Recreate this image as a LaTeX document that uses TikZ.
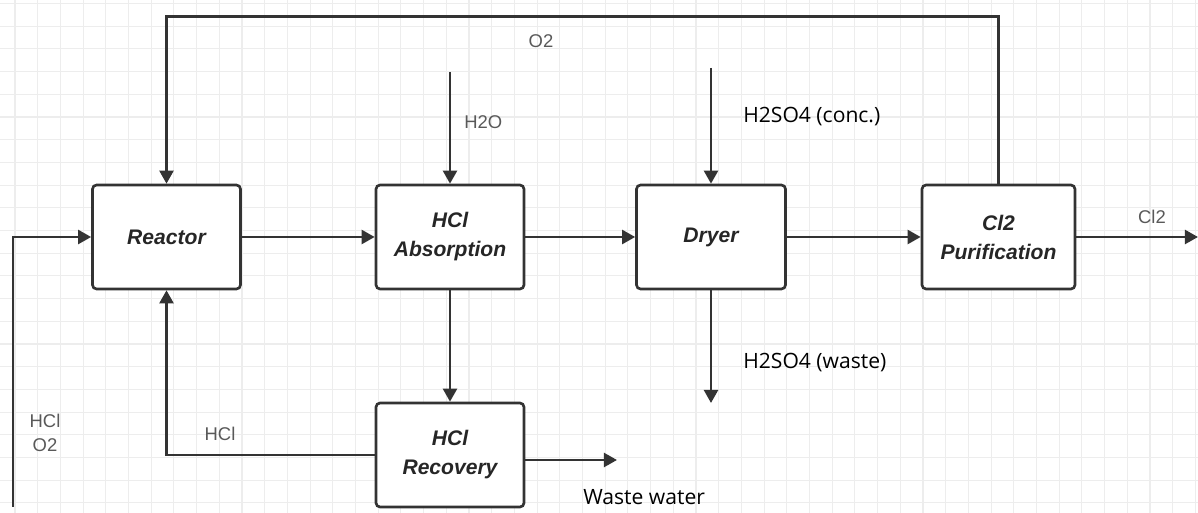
\documentclass[tikz,border=0pt]{standalone}
\usepackage{fontspec}
\setmainfont{Liberation Sans}
\newfontfamily\notefont{Open Sans}
\usetikzlibrary{arrows.meta}

\begin{document}
\begin{tikzpicture}[x=0.02cm,y=-0.02cm,
    unit/.style={draw=colL,line width=1.5pt,rounded corners=2.3pt,fill=white,
                 minimum width=2.96cm,minimum height=2.08cm,align=center,
                 font=\fontsize{12}{16.5}\selectfont\bfseries\itshape,text=colT},
    flow/.style={draw=colL,line width=1.5pt,-{Triangle[length=7.5pt,width=8pt]}},
    tag/.style={font=\fontsize{10.5}{14}\selectfont,text=colG,align=center,inner sep=0pt},
    note/.style={font=\notefont\fontsize{12}{14}\selectfont,text=black,anchor=west,
                 inner sep=0pt},
    gridline/.style={draw=black!7,line width=0.6pt}]
  \def\g{22.7}
  % colores de líneas y textos
  \colorlet{colL}{black!80}
  \colorlet{colT}{black!85}
  \colorlet{colG}{black!65}
  \useasboundingbox (0,0) rectangle (1198,513);
  \fill[white] (0,0) rectangle (1198,513);
  \foreach \i in {0,...,52}{
    \draw[gridline] (15+\i*\g,0) -- (15+\i*\g,513);
  }
  \foreach \j in {0,...,22}{
    \draw[gridline] (0,3.5+\j*\g) -- (1198,3.5+\j*\g);
  }
  % equipos
  \node[unit] (reactor) at (166.5,237) {Reactor};
  \node[unit] (absorb) at (450,237) {HCl\\Absorption};
  \node[unit,minimum width=2.98cm] (dryer) at (711,237) {Dryer};
  \node[unit,minimum width=3.06cm] (purif) at (998.5,237) {Cl2\\Purification};
  \node[unit] (recov) at (450,455) {HCl\\Recovery};
  % extremos libres
  \coordinate (feed) at (13,507);
  \coordinate (looptop) at (580,16.5);
  \coordinate (h2oin) at (450,72);
  \coordinate (acidin) at (711,68);
  \coordinate (acidout) at (711,403);
  \coordinate (wwout) at (617,460);
  \coordinate (cl2out) at (1198,237);
  % corrientes
  \draw[flow] (feed) |- (reactor.west);
  \draw[flow] (reactor) -- (absorb);
  \draw[flow] (absorb) -- (dryer);
  \draw[flow] (dryer) -- (purif);
  \draw[flow] (purif.east) -- (cl2out);
  \draw[flow] (purif.north) |- (looptop) -| (reactor.north);
  \draw[flow] (h2oin) -- (absorb.north);
  \draw[flow] (acidin) -- (dryer.north);
  \draw[flow] (dryer.south) -- (acidout);
  \draw[flow] (absorb.south) -- (recov.north);
  \draw[flow] (recov.west) -| (reactor.south);
  \draw[flow] (recov.east |- wwout) -- (wwout);
  % etiquetas
  \node[tag] (lo2) at (541,41) {O2};
  \node[tag,anchor=west] (lh2o) at (464,122) {H2O};
  \node[note] (lacid) at (743,117) {H2SO4 (conc.)};
  \node[note] (lwaste) at (743,363) {H2SO4 (waste)};
  \node[note] (lww) at (583,497) {Waste water};
  \node[tag] (lhcl) at (220,434) {HCl};
  \node[tag] (lfeed) at (45,433) {HCl\\O2};
  \node[tag] (lcl2) at (1152,217) {Cl2};
\end{tikzpicture}
\end{document}
